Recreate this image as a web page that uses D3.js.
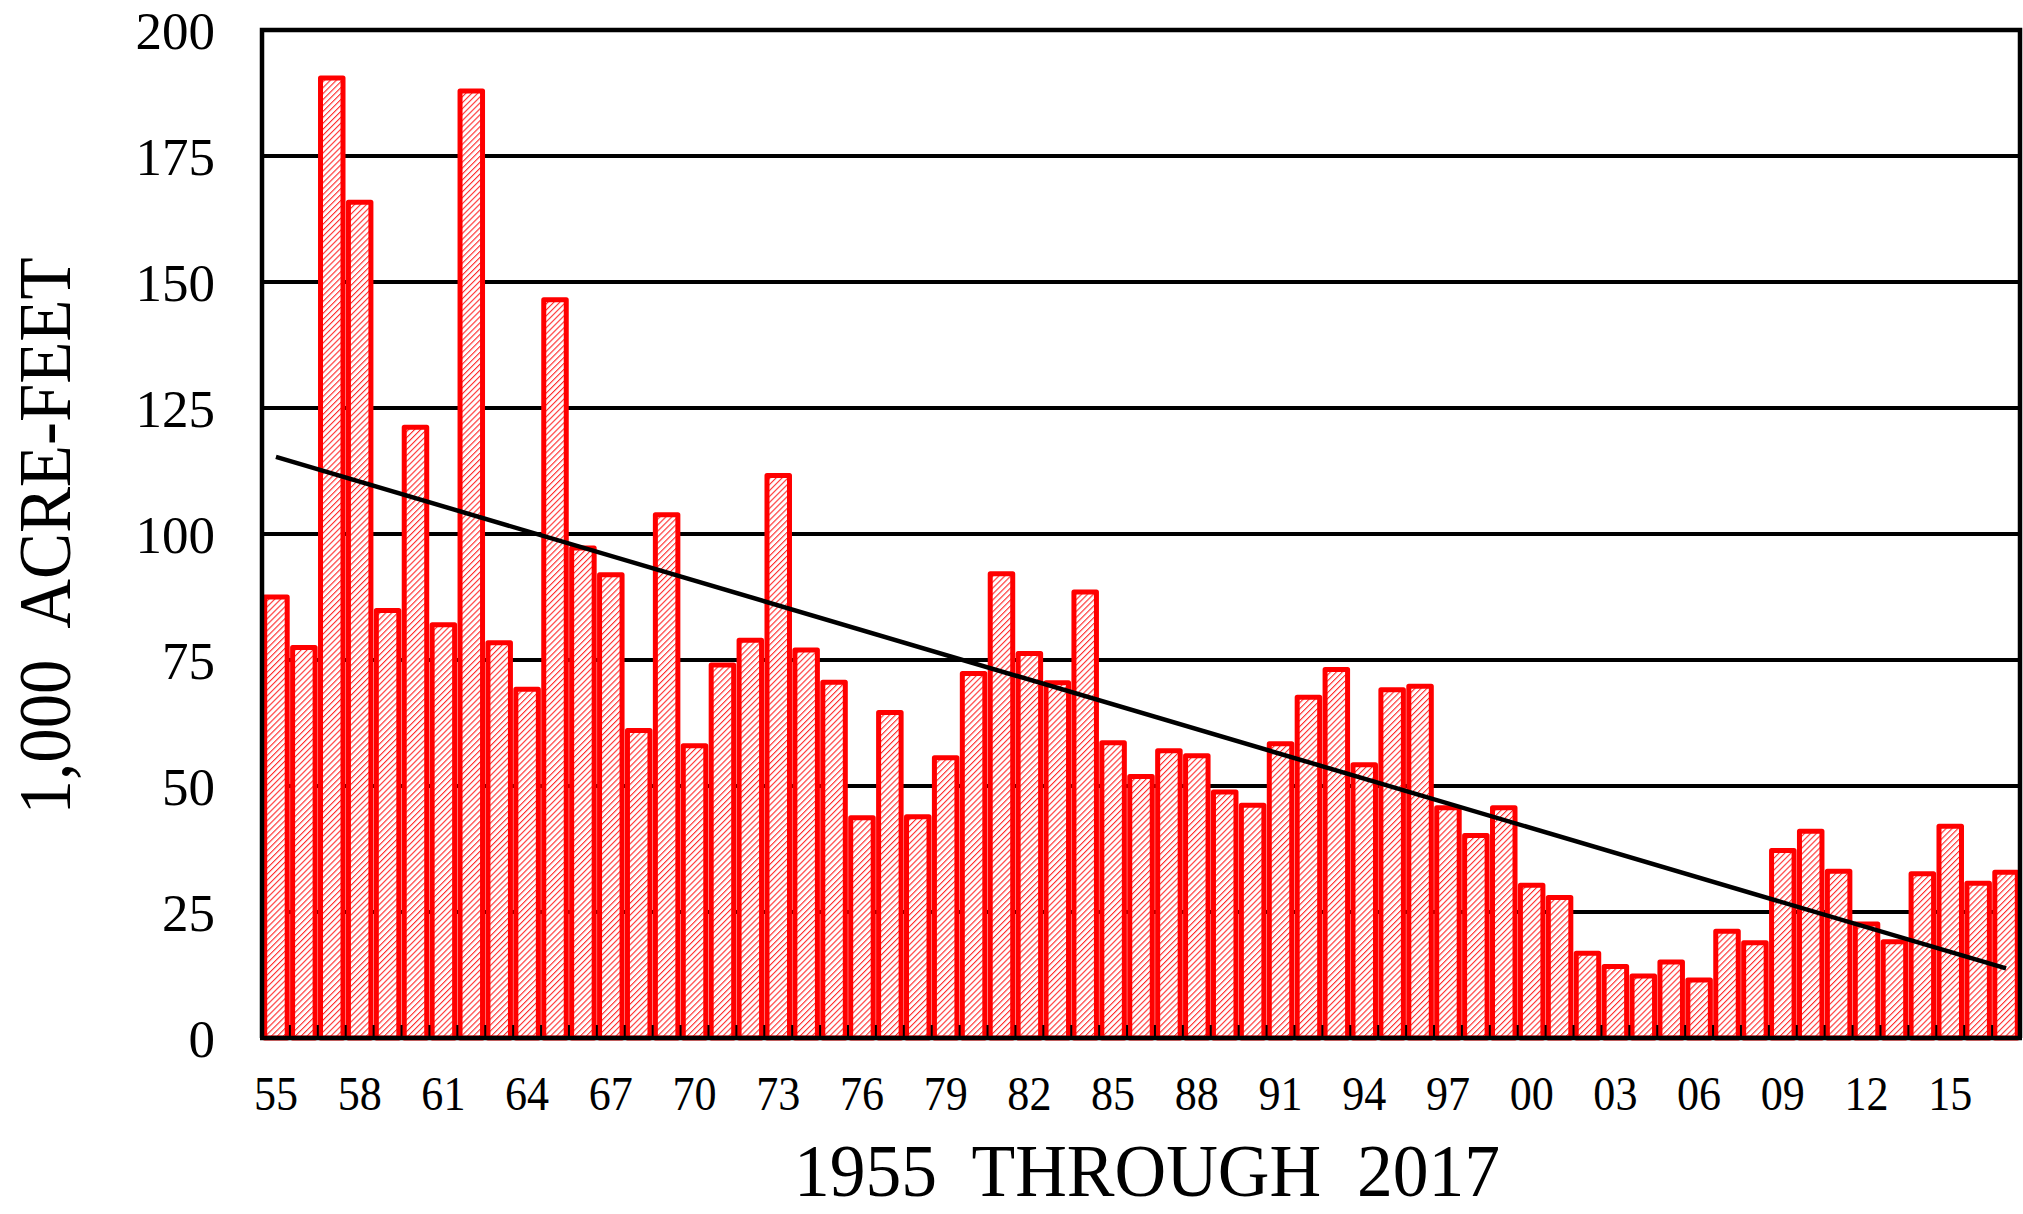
<!DOCTYPE html>
<html>
<head>
<meta charset="utf-8">
<script src="https://cdn.jsdelivr.net/npm/d3@7"></script>
<style>
  html, body { margin: 0; padding: 0; background: #fff; }
  svg { display: block; }
  text { font-family: "Liberation Serif", "DejaVu Serif", serif; fill: #000; }
</style>
</head>
<body>
<svg id="chart" width="2023" height="1214"></svg>
<script>
// ---- Data ----
const years = d3.range(1955, 2018);
const values = [
  87.5, 77.5, 190.5, 165.8, 84.8, 121.2, 82.0, 187.9, 78.4, 69.2,
  146.5, 97.2, 91.9, 61.0, 103.8, 58.0, 74.0, 78.9, 111.6, 77.0,
  70.6, 43.7, 64.6, 43.9, 55.6, 72.3, 92.1, 76.3, 70.5, 88.5,
  58.6, 51.9, 57.0, 56.0, 48.8, 46.2, 58.4, 67.6, 73.1, 54.2,
  69.1, 69.8, 45.7, 40.2, 45.7, 30.3, 27.9, 16.8, 14.2, 12.3,
  15.1, 11.5, 21.2, 18.9, 37.2, 41.0, 33.1, 22.6, 19.1, 32.6,
  42.0, 30.7, 32.9
];
const yTicks = [0, 25, 50, 75, 100, 125, 150, 175, 200];
const xTickYears = d3.range(1955, 2018, 3);
const trendYears = [1955, 2017];
const trendValues = [115.3, 13.8];
const yTitle = "1,000  ACRE-FEET";
const xTitle = "1955  THROUGH  2017";

// ---- Layout ----
const svg = d3.select("#chart");
const L = 262, R = 2020, T = 30, B = 1038;

const x = d3.scaleBand().domain(years).range([L, R]).padding(0);
const y = d3.scaleLinear().domain([0, 200]).range([B, T]);

// hatch pattern
const defs = svg.append("defs");
const pat = defs.append("pattern")
  .attr("id", "hatch")
  .attr("patternUnits", "userSpaceOnUse")
  .attr("width", 4.2).attr("height", 4.2)
  .attr("patternTransform", "rotate(45)");
pat.append("rect").attr("width", 4.2).attr("height", 4.2).attr("fill", "#fff");
pat.append("line").attr("x1", 0).attr("y1", 0).attr("x2", 0).attr("y2", 4.2)
  .attr("stroke", "#ff2a2a").attr("stroke-width", 2.2);

// gridlines
svg.append("g").selectAll("line")
  .data(yTicks.filter(d => d > 0 && d < 200))
  .join("line")
  .attr("x1", L).attr("x2", R)
  .attr("y1", d => y(d)).attr("y2", d => y(d))
  .attr("stroke", "#000").attr("stroke-width", 4);

// bars
const barW = 22.5;
svg.append("g").selectAll("rect")
  .data(years.map((yr, i) => ({ yr, v: values[i] })))
  .join("rect")
  .attr("x", d => x(d.yr) + (x.bandwidth() - barW) / 2)
  .attr("width", barW)
  .attr("y", d => y(d.v))
  .attr("height", d => B - y(d.v))
  .attr("fill", "url(#hatch)")
  .attr("stroke", "#ff0000")
  .attr("stroke-width", 5)
  .attr("stroke-linejoin", "round");

// frame: top, left, right
svg.append("path")
  .attr("d", `M${L},${B} L${L},${T} L${R},${T} L${R},${B}`)
  .attr("fill", "none").attr("stroke", "#000").attr("stroke-width", 4.5);

// bottom axis line
svg.append("line")
  .attr("x1", L - 2).attr("x2", R + 2).attr("y1", B).attr("y2", B)
  .attr("stroke", "#000").attr("stroke-width", 4.5);

// inner ticks between bars
svg.append("g").selectAll("line")
  .data(years.slice(1))
  .join("line")
  .attr("x1", d => x(d)).attr("x2", d => x(d))
  .attr("y1", B).attr("y2", B - 13)
  .attr("stroke", "#000").attr("stroke-width", 2);

// trend line
const line = d3.line()
  .x((d, i) => x(trendYears[i]) + x.bandwidth() / 2)
  .y(d => y(d));
svg.append("path")
  .datum(trendValues)
  .attr("d", line)
  .attr("fill", "none").attr("stroke", "#000").attr("stroke-width", 4.5);

// y axis labels
const yAxis = svg.append("g")
  .attr("transform", `translate(${L},0)`)
  .call(d3.axisLeft(y).tickValues(yTicks).tickSize(0).tickPadding(47));
yAxis.select(".domain").remove();
yAxis.selectAll("text")
  .style("font-family", '"Liberation Serif", serif')
  .style("font-size", "53px")
  .attr("dy", "0.34em");

// x axis labels
const xAxis = svg.append("g")
  .attr("transform", `translate(0,${B})`)
  .call(d3.axisBottom(x).tickValues(xTickYears).tickSize(0)
    .tickFormat(d => String(d).slice(2)));
xAxis.select(".domain").remove();
xAxis.selectAll("text")
  .style("font-family", '"Liberation Serif", serif')
  .style("font-size", "49px")
  .attr("y", 72).attr("dy", 0)
  .attr("transform", "scale(0.9,1)");

// axis titles
svg.append("text")
  .attr("x", 1147).attr("y", 1196)
  .attr("text-anchor", "middle")
  .attr("textLength", 706).attr("lengthAdjust", "spacingAndGlyphs")
  .style("font-size", "74px")
  .style("white-space", "pre")
  .text(xTitle);

svg.append("text")
  .attr("transform", "translate(70,536) rotate(-90)")
  .attr("text-anchor", "middle")
  .attr("textLength", 557).attr("lengthAdjust", "spacingAndGlyphs")
  .style("font-size", "75px")
  .style("white-space", "pre")
  .text(yTitle);
</script>
</body>
</html>
